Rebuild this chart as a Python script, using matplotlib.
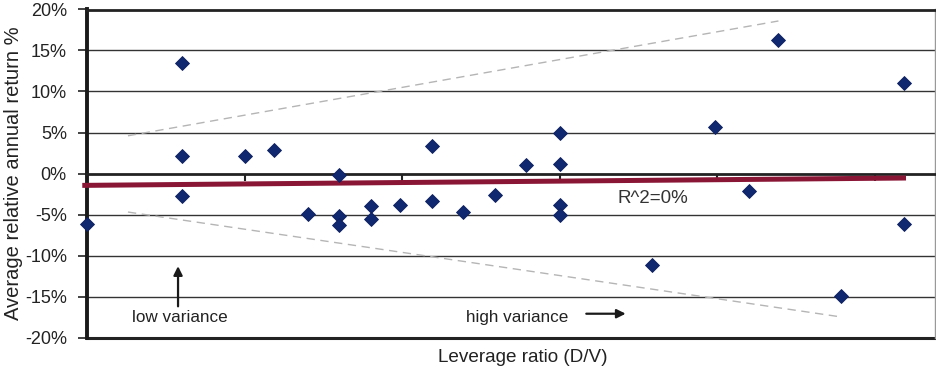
import matplotlib
matplotlib.use("Agg")
import matplotlib.pyplot as plt
import numpy as np

plt.rcParams['font.family'] = ['Liberation Sans', 'DejaVu Sans']

# Data (x in arbitrary leverage units, tick spacing = 1; y in %)
x_vals = [0.00, 0.60, 0.60, 0.60, 1.00, 1.19, 1.40, 1.60, 1.60, 1.60,
          1.80, 1.80, 1.99, 2.19, 2.19, 2.39, 2.59, 2.79, 3.00, 3.00,
          3.00, 3.00, 3.59, 3.99, 4.20, 4.39, 4.79, 5.19, 5.19]
y_vals = [-6.2, 13.5, 2.1, -2.7, 2.1, 2.9, -4.9, -0.2, -5.2, -6.3,
          -4.0, -5.5, -3.8, 3.4, -3.3, -4.7, -2.6, 1.0, 5.0, 1.1,
          -3.9, -5.1, -11.1, 5.7, -2.1, 16.3, -14.9, 11.0, -6.2]

trend_x = [-0.03, 5.20]
trend_y = [-1.45, -0.55]
upper_x = [0.26, 4.39]
upper_y = [4.6, 18.6]
lower_x = [0.26, 4.79]
lower_y = [-4.7, -17.5]

y_ticks = [-20, -15, -10, -5, 0, 5, 10, 15, 20]
y_ticklabels = [f"{t}%" for t in y_ticks]
x_ticks = [1, 2, 3, 4, 5]

fig = plt.figure(figsize=(9.36, 3.76), dpi=100)
ax = fig.add_axes([87/936, 1-337.5/376, (935-87)/936, (337.5-9.5)/376])

ax.set_xlim(0, 5.384)
ax.set_ylim(-20, 20)

# grid lines
for t in y_ticks:
    if t in (-20, 0, 20):
        continue
    ax.axhline(t, color='#333333', lw=1.0, zorder=1)
ax.axhline(-20, color='#222222', lw=2.2, zorder=1, clip_on=False)

# spines
ax.spines['bottom'].set_position(('data', 0))
ax.spines['bottom'].set_linewidth(2.0)
ax.spines['bottom'].set_color('#222222')
ax.spines['top'].set_linewidth(2.0)
ax.spines['top'].set_color('#222222')
ax.spines['left'].set_linewidth(2.8)
ax.spines['left'].set_color('#1a1a1a')
ax.spines['right'].set_linewidth(1.0)
ax.spines['right'].set_color('#999999')

ax.set_yticks(y_ticks)
ax.set_yticklabels(y_ticklabels, fontsize=13, color='#222222')
ax.tick_params(axis='y', direction='out', length=6.5, width=1.2, pad=8, color='#222222')
ax.set_xticks(x_ticks)
ax.set_xticklabels([''] * len(x_ticks))
ax.tick_params(axis='x', direction='out', length=5, width=1.5, color='#222222')

# bound lines
ax.plot(upper_x, upper_y, color='#b5b5b5', lw=1.0, dashes=(6, 4), zorder=2)
ax.plot(lower_x, lower_y, color='#b5b5b5', lw=1.0, dashes=(6, 4), zorder=2)

# trend line
ax.plot(trend_x, trend_y, color='#8a1636', lw=3.6, solid_capstyle='butt', zorder=3, clip_on=False)

# points
ax.plot(x_vals, y_vals, linestyle='none', marker='D', ms=7.6, color='#102870',
        markeredgecolor='#0c1f60', markeredgewidth=0.6, zorder=4, clip_on=False)

# annotations
ax.text(3.59, -3.0, "R^2=0%", fontsize=13.5, color='#333333', ha='center', va='center')
ax.text(0.59, -17.6, "low variance", fontsize=12.3, color='#222222', ha='center', va='center')
ax.text(2.73, -17.6, "high variance", fontsize=12.3, color='#222222', ha='center', va='center')
ax.annotate("", xy=(3.42, -17.1), xytext=(3.17, -17.1),
            arrowprops=dict(arrowstyle='-|>', color='#1a1a1a', lw=1.6, mutation_scale=13,
                            shrinkA=0, shrinkB=0))
ax.annotate("", xy=(0.578, -11.3), xytext=(0.578, -16.2),
            arrowprops=dict(arrowstyle='-|>', color='#1a1a1a', lw=1.6, mutation_scale=13,
                            shrinkA=0, shrinkB=0))

ax.set_ylabel("Average relative annual return %", fontsize=14.5, color='#222222', labelpad=1)
fig.text(523/936, 1-358/376, "Leverage ratio (D/V)", fontsize=13.6, color='#222222',
         ha='center', va='center')

fig.savefig("out.png", dpi=100)
